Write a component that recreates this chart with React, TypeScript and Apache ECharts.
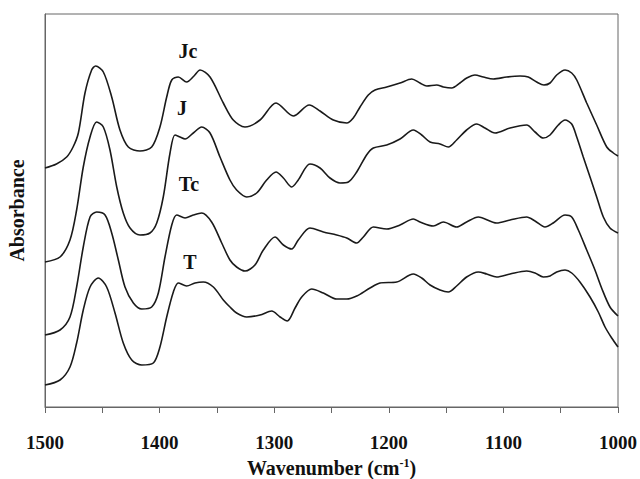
import React, { useEffect, useRef } from "react";
import * as echarts from "echarts";

// [wavenumber (cm-1), absorbance (arbitrary units, stacked offsets)]
const seriesJc: number[][] = [
  [1500, 2.39], [1490, 2.43], [1481.1, 2.5], [1475.5, 2.6], [1470.9, 2.74], [1465.1, 3.14],
  [1459.3, 3.37], [1455.8, 3.41], [1449.1, 3.35], [1441.8, 3.1], [1434.6, 2.77], [1427.3, 2.6],
  [1417.1, 2.56], [1406.9, 2.6], [1399.7, 2.8], [1393.8, 3.1], [1389.4, 3.27], [1383.7, 3.3],
  [1376.4, 3.25], [1370, 3.31], [1364.7, 3.37], [1356, 3.3], [1344.4, 3.04], [1335.7, 2.87],
  [1325.5, 2.8], [1312.4, 2.87], [1298.4, 3.04], [1283.3, 2.91], [1269.4, 3.02], [1260, 2.96],
  [1248.4, 2.87], [1236.7, 2.84], [1231, 2.89], [1225.1, 3.0], [1217.9, 3.12], [1212, 3.17],
  [1201.8, 3.2], [1190.2, 3.24], [1180, 3.28], [1172.8, 3.24], [1166.9, 3.21], [1158.2, 3.22],
  [1152.4, 3.2], [1145.1, 3.19], [1137.9, 3.24], [1132, 3.29], [1124.8, 3.32], [1117.5, 3.3],
  [1108.8, 3.28], [1097.1, 3.3], [1085.5, 3.31], [1078.3, 3.3], [1071, 3.25], [1064.6, 3.22],
  [1059.3, 3.24], [1053.5, 3.32], [1046.2, 3.37], [1040.4, 3.34], [1036, 3.27], [1027.3, 3.04],
  [1018.6, 2.82], [1009.8, 2.6], [1004.1, 2.54], [1000, 2.51],
];
const seriesJ: number[][] = [
  [1500, 1.45], [1486.9, 1.5], [1478.2, 1.67], [1472.4, 1.97], [1466.6, 2.4], [1460.7, 2.7],
  [1454.9, 2.85], [1449.1, 2.8], [1443.3, 2.57], [1437.4, 2.2], [1431.7, 1.94], [1425.8, 1.79],
  [1417.1, 1.72], [1408.4, 1.74], [1402.5, 1.84], [1396.8, 2.1], [1390.9, 2.54], [1386.6, 2.72],
  [1382.2, 2.7], [1377.8, 2.68], [1370.6, 2.74], [1363.3, 2.8], [1356, 2.74], [1347.3, 2.5],
  [1338.6, 2.27], [1332.8, 2.17], [1324, 2.1], [1315.3, 2.14], [1306.6, 2.27], [1298.4, 2.35],
  [1292, 2.29], [1284.7, 2.2], [1279, 2.27], [1268.8, 2.43], [1260, 2.39], [1251.3, 2.29],
  [1242.6, 2.24], [1235.3, 2.25], [1228, 2.35], [1219.4, 2.52], [1213.5, 2.59], [1201.8, 2.62],
  [1190.2, 2.68], [1178.6, 2.77], [1171.3, 2.72], [1164, 2.65], [1155.3, 2.63], [1148.1, 2.6],
  [1140.8, 2.67], [1132.1, 2.77], [1123.3, 2.83], [1116.1, 2.79], [1107.3, 2.74], [1094.2, 2.79],
  [1079.7, 2.82], [1072.4, 2.75], [1065.2, 2.69], [1059.3, 2.72], [1052.1, 2.82], [1046.2, 2.87],
  [1040.4, 2.83], [1036, 2.7], [1030.3, 2.5], [1024.4, 2.3], [1018.6, 2.1], [1012.8, 1.9],
  [1007, 1.79], [1000, 1.74],
];
const seriesTc: number[][] = [
  [1500, 0.72], [1486.9, 0.77], [1478.2, 0.9], [1472.4, 1.2], [1466.6, 1.6], [1460.7, 1.9],
  [1454.9, 1.95], [1447.6, 1.92], [1441.8, 1.74], [1436, 1.47], [1430.2, 1.2], [1422.9, 1.04],
  [1415.6, 0.98], [1406.9, 1.0], [1401.1, 1.14], [1395.3, 1.5], [1389.4, 1.82], [1385.1, 1.92],
  [1377.8, 1.89], [1370.6, 1.92], [1363.3, 1.94], [1354.6, 1.85], [1345.8, 1.64], [1338.6, 1.47],
  [1332.8, 1.4], [1325.5, 1.36], [1316.8, 1.42], [1309.5, 1.57], [1299.3, 1.7], [1292, 1.62],
  [1284.7, 1.58], [1279, 1.67], [1268.8, 1.79], [1257.1, 1.75], [1245.5, 1.72], [1236.7, 1.69],
  [1228, 1.64], [1222.2, 1.7], [1213.5, 1.8], [1201.8, 1.78], [1190.2, 1.82], [1178.6, 1.88],
  [1172.8, 1.85], [1161.2, 1.81], [1152.4, 1.85], [1140.8, 1.8], [1132.1, 1.85], [1121.9, 1.9],
  [1105.9, 1.84], [1094.2, 1.87], [1079.7, 1.9], [1072.4, 1.86], [1063.7, 1.8], [1056.5, 1.84],
  [1046.2, 1.92], [1040.4, 1.9], [1034.6, 1.77], [1027.3, 1.57], [1020.1, 1.37], [1014.3, 1.19],
  [1007, 1.0], [1000, 0.91],
];
const seriesT: number[][] = [
  [1500, 0.22], [1486.9, 0.27], [1478.2, 0.4], [1472.4, 0.64], [1466.6, 0.97], [1460.7, 1.2],
  [1453.5, 1.29], [1446.2, 1.2], [1438.9, 0.94], [1431.7, 0.64], [1424.3, 0.47], [1415.6, 0.42],
  [1405.5, 0.44], [1399.7, 0.6], [1393.8, 0.9], [1388, 1.15], [1383.7, 1.24], [1376.4, 1.21],
  [1369.1, 1.24], [1361.9, 1.25], [1353.1, 1.2], [1344.4, 1.07], [1338.6, 1.0], [1332.8, 0.94],
  [1324, 0.9], [1312.4, 0.92], [1302.2, 0.96], [1294.9, 0.9], [1288.6, 0.86], [1281.8, 0.99],
  [1276, 1.1], [1267.3, 1.18], [1257.1, 1.14], [1245.5, 1.08], [1236.7, 1.08], [1228, 1.11],
  [1216.4, 1.19], [1207.7, 1.24], [1193.1, 1.25], [1178.6, 1.33], [1171.3, 1.29], [1164, 1.22],
  [1155.3, 1.17], [1148.1, 1.15], [1140.8, 1.21], [1132.1, 1.3], [1121.9, 1.35], [1114.6, 1.33],
  [1105.9, 1.3], [1094.2, 1.33], [1079.7, 1.36], [1072.4, 1.34], [1065.2, 1.3], [1059.3, 1.31],
  [1053.5, 1.35], [1046.2, 1.37], [1040.4, 1.34], [1033.2, 1.25], [1024.4, 1.1], [1017.2, 0.95],
  [1011.3, 0.8], [1005.5, 0.69], [1000, 0.6],
];
const seriesNames = ["Jc", "J", "Tc", "T"];
// label anchor positions in data coordinates [wavenumber, absorbance]
const labelAnchors: number[][] = [
  [1375.2, 3.56], [1380.5, 2.99], [1374.3, 2.23], [1373.5, 1.45],
];
const xTicks = [1500, 1400, 1300, 1200, 1100, 1000];

const FONT = "'Liberation Serif', 'Times New Roman', serif";

export default function App() {
  const ref = useRef<HTMLDivElement>(null);
  useEffect(() => {
    if (!ref.current) return;
    const chart = echarts.init(ref.current, undefined, { renderer: "svg" });
    const all = [seriesJc, seriesJ, seriesTc, seriesT];
    chart.setOption({
      animation: false,
      backgroundColor: "#ffffff",
      grid: {
        left: 45,
        right: 22,
        top: 14,
        bottom: 72,
        containLabel: false,
        outerBoundsMode: "none",
        show: true,
        borderColor: "#666",
        borderWidth: 1,
      },
      xAxis: {
        type: "value",
        min: 1000,
        max: 1500,
        interval: 50,
        inverse: true,
        axisLine: { show: true, lineStyle: { color: "#666", width: 1 } },
        axisTick: { show: true, length: 6, lineStyle: { color: "#666" } },
        splitLine: { show: false },
        axisLabel: {
          margin: 26,
          fontFamily: FONT,
          fontWeight: "bold",
          fontSize: 19,
          color: "#111",
          formatter: (v: number) => (xTicks.includes(v) ? String(v) : ""),
        },
        name: "Wavenumber (cm{sup|-1})",
        nameLocation: "middle",
        nameGap: 50,
        nameTextStyle: {
          fontFamily: FONT,
          fontWeight: "bold",
          fontSize: 20,
          color: "#111",
          rich: {
            sup: {
              fontFamily: FONT,
              fontWeight: "bold",
              fontSize: 12,
              color: "#111",
              verticalAlign: "top",
              padding: [0, 0, 9, 0],
            },
          },
        },
      },
      yAxis: {
        type: "value",
        min: 0,
        max: 3.93,
        axisLine: { show: true, lineStyle: { color: "#666", width: 1 } },
        axisTick: { show: false },
        axisLabel: { show: false },
        splitLine: { show: false },
        name: "Absorbance",
        nameLocation: "middle",
        nameGap: 18,
        nameRotate: 90,
        nameTextStyle: {
          fontFamily: FONT,
          fontWeight: "bold",
          fontSize: 20,
          color: "#111",
        },
      },
      series: all.map((d, i) => ({
        type: "line",
        name: seriesNames[i],
        data: d,
        smooth: 0.3,
        showSymbol: false,
        symbol: "none",
        lineStyle: { color: "#1a1a1a", width: 1.6 },
        markPoint: {
          symbol: "circle",
          symbolSize: 0,
          silent: true,
          data: [
            {
              coord: labelAnchors[i],
              label: {
                show: true,
                formatter: seriesNames[i],
                position: "inside",
                fontFamily: FONT,
                fontWeight: "bold",
                fontSize: 20,
                color: "#111",
              },
            },
          ],
        },
      })),
    });
    return () => chart.dispose();
  }, []);
  return <div ref={ref} style={{ width: 640, height: 479, position: "absolute", left: 0, top: 0 }} />;
}
